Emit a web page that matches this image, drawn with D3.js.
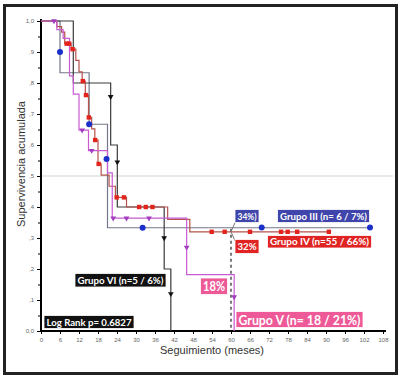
<!DOCTYPE html>
<html>
<head>
<meta charset="utf-8">
<script src="https://cdn.jsdelivr.net/npm/d3@7"></script>
<style>
  body { margin: 0; background: #fff; }
  svg { display: block; }
</style>
</head>
<body>
<div id="chart"></div>
<script>
// Kaplan-Meier curves, values
const xTicks = [0, 6, 12, 18, 24, 30, 36, 42, 48, 54, 60, 66, 72, 78, 84, 90, 96, 102, 108];
const yTicks = [0, 0.1, 0.2, 0.3, 0.4, 0.5, 0.6, 0.7, 0.8, 0.9, 1.0];
const yTickLabels = ["0,0", ",1", ",2", ",3", ",4", ",5", ",6", ",7", ",8", ",9", "1,0"];

const g3Times = [0, 6, 15.2, 21, 104];
const g3Surv  = [1, 0.833, 0.667, 0.333, 0.333];
const g3Cens  = [[6, 0.9], [15.2, 0.667], [20.7, 0.555], [32.1, 0.333], [69.7, 0.334], [103.9, 0.334]];

const g4Times = [0, 5, 6.5, 7.5, 9.5, 11, 12, 13, 14, 15, 16, 17, 18, 19, 21.5, 23.5, 27, 40, 47, 91];
const g4Surv  = [1, 0.982, 0.964, 0.927, 0.909, 0.873, 0.836, 0.806, 0.761, 0.689, 0.652, 0.616, 0.539, 0.503, 0.467, 0.431, 0.4, 0.36, 0.32, 0.32];
const g4Cens  = [[8.1, 0.927], [8.9, 0.927], [10, 0.909], [13.2, 0.806], [14.2, 0.761], [15.1, 0.689], [17.1, 0.616],
                 [18.2, 0.539], [23.9, 0.431], [26.2, 0.431], [31, 0.4], [33.1, 0.4], [35.2, 0.4], [53.9, 0.32],
                 [58, 0.32], [66, 0.32], [75.8, 0.32], [77.9, 0.32], [80.9, 0.32], [90.9, 0.32]];

const g5Times = [0, 5, 7, 9, 10.2, 12, 15, 21, 22.5, 46, 61, 61];
const g5Surv  = [1, 0.972, 0.944, 0.823, 0.764, 0.648, 0.582, 0.51, 0.364, 0.182, 0, 0];
const g5Cens  = [[4.1, 1.0], [13, 0.648], [16, 0.582], [22.8, 0.364], [27, 0.364], [34.1, 0.364], [46, 0.27], [61, 0.11]];

const g6Times = [0, 10.2, 22, 24.1, 38.9, 41, 41];
const g6Surv  = [1, 0.8, 0.6, 0.4, 0.2, 0, 0];
const g6Cens  = [[22, 0.756], [24.1, 0.545], [38.9, 0.3], [41, 0.12]];

const W = 403, H = 381;
const svg = d3.select("#chart").append("svg").attr("width", W).attr("height", H);

// outer frame
svg.append("rect").attr("x", 4.5).attr("y", 5.5).attr("width", 392).attr("height", 368)
  .attr("fill", "none").attr("stroke", "#222").attr("stroke-width", 3);

const x = d3.scaleLinear().domain([0, 108]).range([41, 383]);
const y = d3.scaleLinear().domain([0, 1]).range([331, 21]);

// 0.5 reference line
svg.append("line").attr("x1", x(0)).attr("x2", 393).attr("y1", y(0.5)).attr("y2", y(0.5))
  .attr("stroke", "#d6d6d6").attr("stroke-width", 1.2);

// axes
const yAxis = svg.append("g").attr("transform", `translate(${x(0)},0)`)
  .call(d3.axisLeft(y).tickValues(yTicks).tickSize(4).tickFormat((d, i) => yTickLabels[i]));
svg.append("g").attr("transform", `translate(${x(0)},0)`)
  .call(d3.axisLeft(y).tickValues(d3.range(0.05, 1, 0.1)).tickSize(3).tickFormat(""))
  .call(g => g.select(".domain").remove());
yAxis.select(".domain").attr("stroke-width", 2).attr("d", `M0,${y(0)}V${y(1) - 2}`);
yAxis.selectAll("text").attr("fill", "#666").style("font-size", "6px")
  .style("font-family", "Liberation Sans, Arial, sans-serif").attr("x", -7);

const xAxis = svg.append("g").attr("transform", `translate(0,${y(0)})`)
  .call(d3.axisBottom(x).tickValues(xTicks).tickSize(3).tickFormat(d3.format("d")));
xAxis.select(".domain").attr("stroke-width", 2).attr("d", `M${x(0)},0H386`);
xAxis.selectAll("text").attr("fill", "#666").style("font-size", "6px")
  .style("font-family", "Liberation Sans, Arial, sans-serif").attr("y", 7);

svg.append("text").attr("transform", "rotate(-90)").attr("x", -164).attr("y", 25)
  .attr("text-anchor", "middle").style("font-family", "Liberation Sans, Arial, sans-serif")
  .style("font-size", "11px").attr("fill", "#333").text("Supervivencia acumulada");
svg.append("text").attr("x", 212).attr("y", 354)
  .attr("text-anchor", "middle").style("font-family", "Liberation Sans, Arial, sans-serif")
  .style("font-size", "11px").attr("fill", "#333").text("Seguimiento (meses)");

// dashed line at 60 months
svg.append("line").attr("x1", x(60)).attr("x2", x(60)).attr("y1", y(0.33)).attr("y2", y(0))
  .attr("stroke", "#333").attr("stroke-width", 1.3).attr("stroke-dasharray", "3,3");

const step = d3.line().x(d => x(d[0])).y(d => y(d[1])).curve(d3.curveStepAfter);
function curve(times, surv, color) {
  svg.append("path").datum(d3.zip(times, surv)).attr("d", step)
    .attr("fill", "none").attr("stroke", color).attr("stroke-width", 1.2);
}
curve(g3Times, g3Surv, "#737789");
curve(g6Times, g6Surv, "#3a3a3a");
curve(g4Times, g4Surv, "#b4524c");
curve(g5Times, g5Surv, "#c85ad2");

// leader lines to labels
svg.append("path").attr("d", `M${x(60)},${y(0.32)}L${x(61.3)},${y(0.35)}`).attr("stroke", "#777").attr("fill", "none");
svg.append("path").attr("d", `M${x(60)},${y(0.32)}L${x(61.3)},${y(0.29)}`).attr("stroke", "#777").attr("fill", "none");

// censor marks
svg.selectAll(".sq").data(g4Cens).enter().append("rect")
  .attr("x", d => x(d[0]) - 2.2).attr("y", d => y(d[1]) - 2.2).attr("width", 4.4).attr("height", 4.4)
  .attr("fill", "#e3241d");
svg.selectAll(".dot").data(g3Cens).enter().append("circle")
  .attr("cx", d => x(d[0])).attr("cy", d => y(d[1])).attr("r", 3).attr("fill", "#1b30c8");
const tri = d3.symbol().type(d3.symbolTriangle).size(14);
svg.selectAll(".t5").data(g5Cens).enter().append("path")
  .attr("d", tri).attr("transform", d => `translate(${x(d[0])},${y(d[1])}) rotate(180)`).attr("fill", "#a13bc0");
svg.selectAll(".t6").data(g6Cens).enter().append("path")
  .attr("d", tri).attr("transform", d => `translate(${x(d[0])},${y(d[1])}) rotate(180)`).attr("fill", "#111");

// label boxes
function label(x0, y0, w, h, fill, txt, size) {
  svg.append("rect").attr("x", x0).attr("y", y0).attr("width", w).attr("height", h)
    .attr("fill", fill).attr("stroke", "#fff").attr("stroke-width", 0.8);
  svg.append("text").attr("x", x0 + w / 2).attr("y", y0 + h / 2).attr("dy", "0.36em")
    .attr("text-anchor", "middle").attr("fill", "#fff")
    .style("font-family", "Lato, Open Sans, sans-serif").style("font-weight", "bold")
    .style("font-size", size + "px").attr("textLength", w - 5).attr("lengthAdjust", "spacingAndGlyphs")
    .text(txt);
}
label(235, 209.5, 24, 13, "#3f45aa", "34%)", 10);
label(277.5, 209.5, 92, 13, "#3f45aa", "Grupo III (n= 6 / 7%)", 10);
label(235, 239.5, 24, 14, "#df2423", "32%", 10);
label(267.5, 235.5, 104, 12.5, "#df2423", "Grupo IV (n=55 / 66%)", 10);
label(200.5, 278, 27, 16.5, "#ee5a98", "18%", 14);
label(236, 311.5, 127, 16, "#ee5a98", "Grupo V (n= 18 / 21%)", 14);
label(75, 273.5, 91, 13.5, "#111", "Grupo VI (n=5 / 6%)", 10);
label(44, 315.5, 90, 13, "#111", "Log Rank p= 0.6827", 10);
</script>
</body>
</html>
